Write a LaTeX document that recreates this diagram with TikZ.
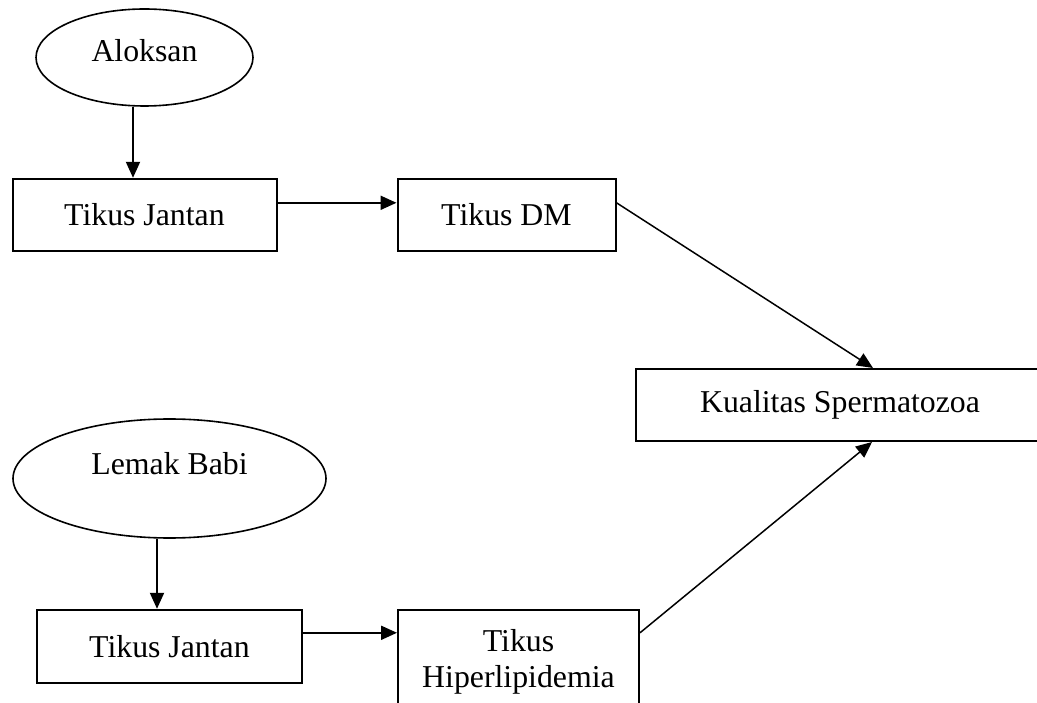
\documentclass[tikz,border=0pt]{standalone}
\usepackage{fontspec}
\setmainfont{Liberation Serif}
\usetikzlibrary{arrows.meta,shapes.geometric,positioning}

\begin{document}
\begin{tikzpicture}[
    x=1pt,y=-1pt,
    font=\fontsize{31.8}{36.5}\selectfont,
    box/.style={rectangle,draw,line width=2pt,minimum height=72pt,inner sep=0pt,align=center},
    oval/.style={ellipse,draw,line width=1.6pt,inner sep=0pt},
    arrow/.style={line width=2pt,-{Triangle[length=16pt,width=14pt]}},
    link/.style={line width=1.5pt,-{Triangle[length=16pt,width=14pt]}}
]
    \useasboundingbox (0,0) rectangle (1037,703);
    \clip (0,0) rectangle (1037,703);

    \node[oval,minimum width=217pt,minimum height=97pt,text height=22pt,text depth=13pt] (aloksan) at (144.5,57.5) {Aloksan};
    \node[box,minimum width=264pt,below=71pt of aloksan] (jantanA) {Tikus Jantan};
    \node[box,minimum width=218pt,right=119pt of jantanA] (dm) {Tikus DM};

    \node[box,minimum width=408pt] (kualitas) at (840,405) {Kualitas Spermatozoa};

    \node[oval,minimum width=313pt,minimum height=119pt,text height=22pt,text depth=30pt] (lemak) at (169.5,478.5) {Lemak Babi};
    \node[box,minimum width=265pt,minimum height=73pt,below=70pt of lemak] (jantanB) {Tikus Jantan};
    \node[box,anchor=north west,minimum width=241pt,minimum height=104pt] (hiper) at ([xshift=94pt]jantanB.north east) {Tikus\\Hiperlipidemia};

    \draw[arrow] ([xshift=-11.5pt]aloksan.south) -- ([xshift=-11.5pt]jantanA.north);
    \draw[arrow] ([yshift=12pt]jantanA.east) -- ([yshift=12pt]dm.west);
    \draw[link] ([yshift=12pt]dm.east) -- ([xshift=33pt]kualitas.north);
    \draw[arrow] ([xshift=-12.5pt]lemak.south) -- ([xshift=-12.5pt]jantanB.north);
    \draw[arrow] ([yshift=13.5pt]jantanB.east) -- ([yshift=-24pt]hiper.north west);
    \draw[link] ([yshift=-24pt]hiper.north east) -- ([xshift=32pt]kualitas.south);
\end{tikzpicture}
\end{document}
